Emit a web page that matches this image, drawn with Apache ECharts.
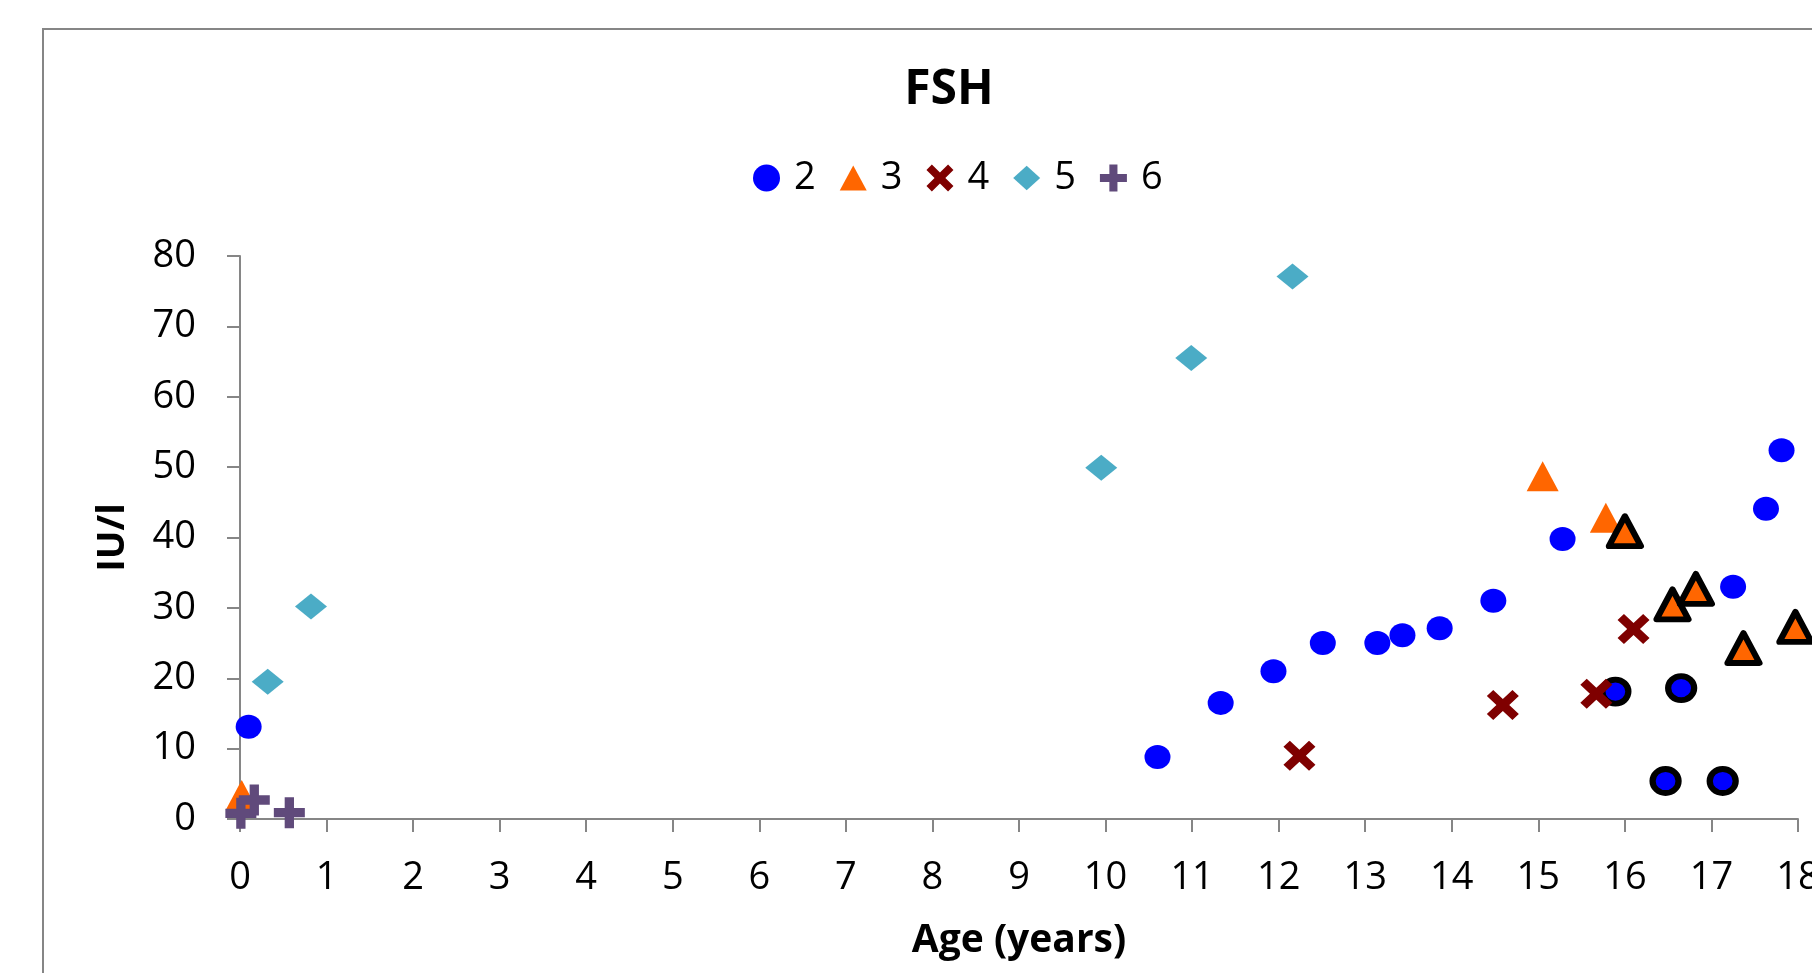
<!DOCTYPE html>
<html>
<head>
<meta charset="utf-8">
<script src="https://cdn.jsdelivr.net/npm/echarts@6/dist/echarts.min.js"></script>
<style>
    html, body { margin: 0; padding: 0; background: #fff; }
    #chart { width: 1812px; height: 973px; }
</style>
</head>
<body>
<div id="chart"></div>
<script>
// age (years), FSH (IU/l) per group
const group2 = [[0.10, 13.1], [10.60, 8.8], [11.33, 16.5], [11.94, 21.0], [12.51, 25.0], [13.14, 25.0],
    [13.43, 26.1], [13.86, 27.1], [14.48, 31.0], [15.28, 39.8], [17.25, 33.0], [17.63, 44.1], [17.81, 52.4]];
const group2Circled = [[15.89, 18.1], [16.47, 5.4], [16.65, 18.6], [17.13, 5.4]];
const group3 = [[0.02, 3.4], [15.05, 48.7], [15.78, 42.8]];
const group3Circled = [[16.00, 40.9], [16.55, 30.5], [16.82, 32.7], [17.37, 24.3], [17.97, 27.3]];
const group4 = [[12.24, 9.0], [14.59, 16.2], [15.67, 17.8], [16.10, 27.0]];
const group5 = [[0.32, 19.5], [0.82, 30.2], [9.95, 49.9], [10.99, 65.5], [12.16, 77.1]];
const group6 = [[0.01, 0.8], [0.165, 2.7], [0.57, 0.9]];

const groupNames = ['2', '3', '4', '5', '6'];
const xTicks = { min: 0, max: 18, step: 1 };
const yTicks = { min: 0, max: 80, step: 10 };

const FONT = 'Open Sans';
const AXIS_GREY = '#868686';

const crossPath = 'path://M0,20 L20,0 L50,30 L80,0 L100,20 L70,50 L100,80 L80,100 L50,70 L20,100 L0,80 L30,50 Z';
const plusPath = 'path://M35,0 H65 V35 H100 V65 H65 V100 H35 V65 H0 V35 H35 Z';
const legendIcons = ['circle', 'path://M50,0 L100,92 L0,92 Z', crossPath, 'path://M50,0 L100,45 L50,90 L0,45 Z', plusPath];

function circled(points) {
    return points.map(p => ({
        value: p,
        itemStyle: { borderColor: '#000', borderWidth: 6, borderJoin: 'round' }
    }));
}

const chart = echarts.init(document.getElementById('chart'));

chart.setOption({
    animation: false,
    backgroundColor: '#fff',
    textStyle: { fontFamily: FONT },
    title: {
        text: 'FSH',
        left: 949,
        top: 66,
        padding: 0,
        textAlign: 'center',
        textStyle: { fontFamily: FONT, fontSize: 48, fontWeight: 'bold', color: '#000' }
    },
    legend: {
        left: 753,
        top: 159,
        padding: 0,
        itemWidth: 27,
        itemHeight: 27,
        itemGap: 24,
        textStyle: { fontFamily: FONT, fontSize: 38, color: '#000', padding: [0, 0, 0, 9] },
        data: groupNames.map((n, i) => ({ name: n, icon: legendIcons[i] }))
    },
    graphic: [{
        type: 'rect',
        shape: { x: 43, y: 29, width: 2000, height: 2000 },
        style: { fill: 'none', stroke: AXIS_GREY, lineWidth: 2 },
        silent: true
    }],
    grid: { left: 240, right: 14, top: 256, bottom: 154, outerBoundsMode: 'none', containLabel: false },
    xAxis: {
        type: 'value',
        min: xTicks.min,
        max: xTicks.max,
        interval: xTicks.step,
        name: 'Age (years)',
        nameLocation: 'middle',
        nameGap: 102,
        nameTextStyle: { fontFamily: FONT, fontSize: 39, fontWeight: 'bold', color: '#000' },
        axisLine: { lineStyle: { color: AXIS_GREY, width: 2 } },
        axisTick: { length: 13, lineStyle: { color: AXIS_GREY, width: 2 } },
        axisLabel: { margin: 40, fontSize: 38, fontFamily: FONT, color: '#000' },
        splitLine: { show: false }
    },
    yAxis: {
        type: 'value',
        min: yTicks.min,
        max: yTicks.max,
        interval: yTicks.step,
        name: 'IU/l',
        nameLocation: 'middle',
        nameGap: 108,
        nameTextStyle: { fontFamily: FONT, fontSize: 38, fontWeight: 'bold', color: '#000' },
        axisLine: { show: true, lineStyle: { color: AXIS_GREY, width: 2 } },
        axisTick: { show: true, length: 13, lineStyle: { color: AXIS_GREY, width: 2 } },
        axisLabel: { margin: 44, fontSize: 38, fontFamily: FONT, color: '#000' },
        splitLine: { show: false }
    },
    series: [
        {
            name: groupNames[0],
            type: 'scatter',
            symbol: 'circle',
            symbolSize: [26, 24],
            itemStyle: { color: '#0000FF', opacity: 1 },
            data: group2.concat(circled(group2Circled))
        },
        {
            name: groupNames[1],
            type: 'scatter',
            symbol: 'triangle',
            symbolSize: [32, 30],
            itemStyle: { color: '#FF6600', opacity: 1 },
            data: group3.concat(circled(group3Circled))
        },
        {
            name: groupNames[2],
            type: 'scatter',
            symbol: crossPath,
            symbolSize: [32, 30],
            itemStyle: { color: '#7F0000', opacity: 1 },
            data: group4
        },
        {
            name: groupNames[3],
            type: 'scatter',
            symbol: 'diamond',
            symbolSize: [32, 26],
            itemStyle: { color: '#4BACC6', opacity: 1 },
            data: group5
        },
        {
            name: groupNames[4],
            type: 'scatter',
            symbol: plusPath,
            symbolSize: [31, 31],
            itemStyle: { color: '#604A7B', opacity: 1 },
            data: group6
        }
    ]
});
</script>
</body>
</html>
